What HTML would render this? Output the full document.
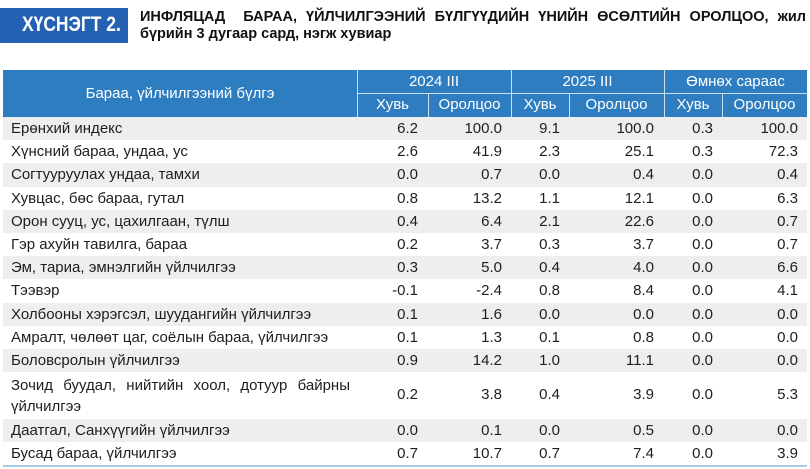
<!DOCTYPE html>
<html><head><meta charset="utf-8">
<style>
*{margin:0;padding:0;box-sizing:border-box}
body{width:810px;height:469px;background:#fff;position:relative;overflow:hidden;font-family:"Liberation Sans","DejaVu Sans",sans-serif;color:#1e1e1e}
.box{position:absolute;left:0;top:8px;width:128px;height:35px;background:#2461B3}
.box span{position:absolute;left:22px;top:6px;font-weight:bold;font-size:21px;line-height:21px;color:#fff;transform:scaleX(0.83);transform-origin:left top;white-space:nowrap}
.t{position:absolute;left:140px;width:666px;font-weight:bold;font-size:14.5px;line-height:15px;color:#111}
.t1{top:10px;text-align:justify;text-align-last:justify}
.t2{top:27px}
.hd{position:absolute;left:3px;top:70px;width:804px;height:47px;background:#2E7DC1}
.ht{position:absolute;color:#fff;font-size:15px;text-align:center;white-space:nowrap}
.vl{position:absolute;width:1px;background:rgba(255,255,255,0.75)}
.hl{position:absolute;height:1px;background:rgba(255,255,255,0.75)}
.r{position:absolute;left:3px;width:804px;height:23.2px;line-height:23.2px;font-size:15px}
.g{background:#ECEEF0}
.l{position:absolute;left:8px;white-space:nowrap}
.n{position:absolute;text-align:right;width:60px}
.c1{right:389px}.c2{right:305px}.c3{right:247px}.c4{right:153px}.c5{right:94px}.c6{right:9px}
.bl{position:absolute;left:3px;top:465px;width:804px;height:2px;background:#A9CBE8}
</style></head><body>
<div class="box"><span>ХҮСНЭГТ 2.</span></div>
<div class="t t1">ИНФЛЯЦАД&nbsp; БАРАА, ҮЙЛЧИЛГЭЭНИЙ БҮЛГҮҮДИЙН ҮНИЙН ӨСӨЛТИЙН ОРОЛЦОО, жил</div>
<div class="t t2">бүрийн 3 дугаар сард, нэгж хувиар</div>

<div class="hd"></div>
<div class="ht" style="left:3px;width:354px;top:70px;height:47px;line-height:47px">Бараа, үйлчилгээний бүлгэ</div>
<div class="ht" style="left:357px;width:154px;top:70px;line-height:23px">2024 III</div>
<div class="ht" style="left:511px;width:153px;top:70px;line-height:23px">2025 III</div>
<div class="ht" style="left:664px;width:143px;top:70px;line-height:23px">Өмнөх сараас</div>
<div class="ht" style="left:357px;width:71px;top:93px;line-height:24px">Хувь</div>
<div class="ht" style="left:428px;width:83px;top:93px;line-height:24px">Оролцоо</div>
<div class="ht" style="left:511px;width:58px;top:93px;line-height:24px">Хувь</div>
<div class="ht" style="left:569px;width:95px;top:93px;line-height:24px">Оролцоо</div>
<div class="ht" style="left:664px;width:58px;top:93px;line-height:24px">Хувь</div>
<div class="ht" style="left:722px;width:85px;top:93px;line-height:24px">Оролцоо</div>
<div class="vl" style="left:357px;top:70px;height:47px"></div>
<div class="vl" style="left:511px;top:70px;height:47px"></div>
<div class="vl" style="left:664px;top:70px;height:47px"></div>
<div class="vl" style="left:428px;top:93px;height:24px"></div>
<div class="vl" style="left:569px;top:93px;height:24px"></div>
<div class="vl" style="left:722px;top:93px;height:24px"></div>
<div class="hl" style="left:357px;top:93px;width:450px"></div>

<div class="r g" style="top:117px"><span class="l">Ерөнхий индекс</span><span class="n c1">6.2</span><span class="n c2">100.0</span><span class="n c3">9.1</span><span class="n c4">100.0</span><span class="n c5">0.3</span><span class="n c6">100.0</span></div>
<div class="r" style="top:140.2px"><span class="l">Хүнсний бараа, ундаа, ус</span><span class="n c1">2.6</span><span class="n c2">41.9</span><span class="n c3">2.3</span><span class="n c4">25.1</span><span class="n c5">0.3</span><span class="n c6">72.3</span></div>
<div class="r g" style="top:163.4px"><span class="l">Согтууруулах ундаа, тамхи</span><span class="n c1">0.0</span><span class="n c2">0.7</span><span class="n c3">0.0</span><span class="n c4">0.4</span><span class="n c5">0.0</span><span class="n c6">0.4</span></div>
<div class="r" style="top:186.6px"><span class="l">Хувцас, бөс бараа, гутал</span><span class="n c1">0.8</span><span class="n c2">13.2</span><span class="n c3">1.1</span><span class="n c4">12.1</span><span class="n c5">0.0</span><span class="n c6">6.3</span></div>
<div class="r g" style="top:209.8px"><span class="l">Орон сууц, ус, цахилгаан, түлш</span><span class="n c1">0.4</span><span class="n c2">6.4</span><span class="n c3">2.1</span><span class="n c4">22.6</span><span class="n c5">0.0</span><span class="n c6">0.7</span></div>
<div class="r" style="top:233px"><span class="l">Гэр ахуйн тавилга, бараа</span><span class="n c1">0.2</span><span class="n c2">3.7</span><span class="n c3">0.3</span><span class="n c4">3.7</span><span class="n c5">0.0</span><span class="n c6">0.7</span></div>
<div class="r g" style="top:256.2px"><span class="l">Эм, тариа, эмнэлгийн үйлчилгээ</span><span class="n c1">0.3</span><span class="n c2">5.0</span><span class="n c3">0.4</span><span class="n c4">4.0</span><span class="n c5">0.0</span><span class="n c6">6.6</span></div>
<div class="r" style="top:279.4px"><span class="l">Тээвэр</span><span class="n c1">-0.1</span><span class="n c2">-2.4</span><span class="n c3">0.8</span><span class="n c4">8.4</span><span class="n c5">0.0</span><span class="n c6">4.1</span></div>
<div class="r g" style="top:302.6px"><span class="l">Холбооны хэрэгсэл, шуудангийн үйлчилгээ</span><span class="n c1">0.1</span><span class="n c2">1.6</span><span class="n c3">0.0</span><span class="n c4">0.0</span><span class="n c5">0.0</span><span class="n c6">0.0</span></div>
<div class="r" style="top:325.8px"><span class="l">Амралт, чөлөөт цаг, соёлын бараа, үйлчилгээ</span><span class="n c1">0.1</span><span class="n c2">1.3</span><span class="n c3">0.1</span><span class="n c4">0.8</span><span class="n c5">0.0</span><span class="n c6">0.0</span></div>
<div class="r g" style="top:349px"><span class="l">Боловсролын үйлчилгээ</span><span class="n c1">0.9</span><span class="n c2">14.2</span><span class="n c3">1.0</span><span class="n c4">11.1</span><span class="n c5">0.0</span><span class="n c6">0.0</span></div>
<div class="r" style="top:372.2px;height:46.4px;line-height:46.4px">
  <div style="position:absolute;left:8px;top:3.3px;width:339px;line-height:21px;white-space:normal">
    <div style="text-align:justify;text-align-last:justify">Зочид буудал, нийтийн хоол, дотуур байрны</div>
    <div>үйлчилгээ</div>
  </div>
  <span class="n c1">0.2</span><span class="n c2">3.8</span><span class="n c3">0.4</span><span class="n c4">3.9</span><span class="n c5">0.0</span><span class="n c6">5.3</span></div>
<div class="r g" style="top:418.6px"><span class="l">Даатгал, Санхүүгийн үйлчилгээ</span><span class="n c1">0.0</span><span class="n c2">0.1</span><span class="n c3">0.0</span><span class="n c4">0.5</span><span class="n c5">0.0</span><span class="n c6">0.0</span></div>
<div class="r" style="top:441.8px"><span class="l">Бусад бараа, үйлчилгээ</span><span class="n c1">0.7</span><span class="n c2">10.7</span><span class="n c3">0.7</span><span class="n c4">7.4</span><span class="n c5">0.0</span><span class="n c6">3.9</span></div>
<div class="bl"></div>
</body></html>
